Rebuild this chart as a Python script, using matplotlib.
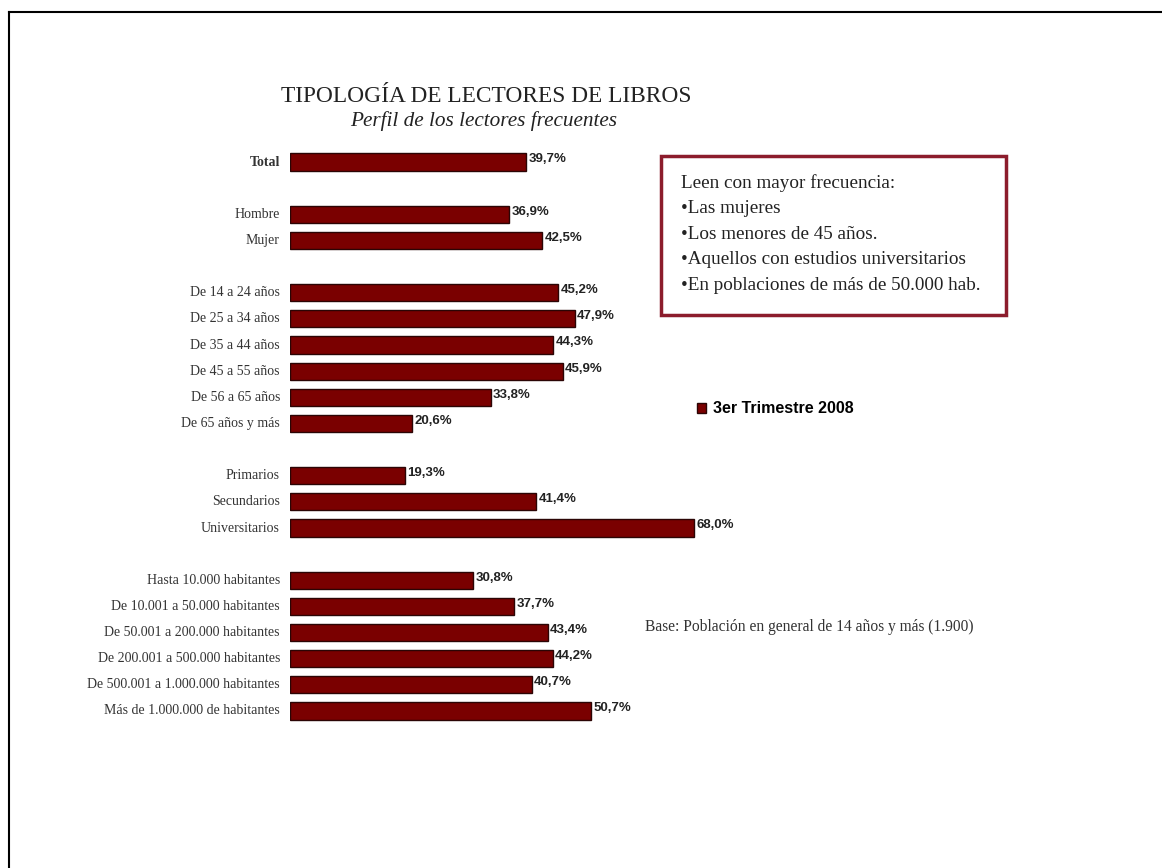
import matplotlib
matplotlib.use("Agg")
import matplotlib.pyplot as plt
from matplotlib.lines import Line2D
from matplotlib.patches import Rectangle, Patch

W, H = 1162, 868

categories = [
    "Total",
    "Hombre", "Mujer",
    "De 14 a 24 años", "De 25 a 34 años", "De 35 a 44 años",
    "De 45 a 55 años", "De 56 a 65 años", "De 65 años y más",
    "Primarios", "Secundarios", "Universitarios",
    "Hasta 10.000 habitantes", "De 10.001 a 50.000 habitantes",
    "De 50.001 a 200.000 habitantes", "De 200.001 a 500.000 habitantes",
    "De 500.001 a 1.000.000 habitantes", "Más de 1.000.000 de habitantes",
]
values = [39.7, 36.9, 42.5, 45.2, 47.9, 44.3, 45.9, 33.8, 20.6,
          19.3, 41.4, 68.0, 30.8, 37.7, 43.4, 44.2, 40.7, 50.7]
# slot positions (gaps between groups)
slots = [0, 2, 3, 5, 6, 7, 8, 9, 10, 12, 13, 14, 16, 17, 18, 19, 20, 21]
series_name = "3er Trimestre 2008"

title = "TIPOLOGÍA DE LECTORES DE LIBROS"
subtitle = "Perfil de los lectores frecuentes"
box_lines = ["Leen con mayor frecuencia:",
             "•Las mujeres",
             "•Los menores de 45 años.",
             "•Aquellos con estudios universitarios",
             "•En poblaciones de más de 50.000 hab."]
base_note = "Base: Población en general de 14 años y más (1.900)"

serif = ["Liberation Serif", "DejaVu Serif"]
sans = ["Liberation Sans", "DejaVu Sans"]

fig = plt.figure(figsize=(W / 100, H / 100), dpi=100)
fig.patch.set_facecolor("white")

def fx(px):
    return px / W

def fy(py):
    return 1 - py / H

# axes: slot 0 centre at y=162px, slot 21 at 711px; x 0 at 290px, 5.94 px/unit
slot_px = (711 - 162) / 21
top_px = 162 - 0.6 * slot_px
bot_px = 711 + 0.6 * slot_px
left_px = 290
xmax = 100
width_px = 5.94 * xmax
ax = fig.add_axes([fx(left_px), fy(bot_px), width_px / W, (bot_px - top_px) / H])
ax.set_xlim(0, xmax)
ax.set_ylim(21.6, -0.6)
ax.axis("off")

bars = ax.barh(slots, values, height=0.66, color="#7a0000",
               edgecolor="#2b0505", linewidth=1.0, label=series_name)

for s, v, c in zip(slots, values, categories):
    ax.text(v + 0.4, s - 0.1, f"{v:.1f}%".replace(".", ","), ha="left", va="center",
            fontsize=9.5, fontweight="bold", family=sans, color="#222222")
    ax.text(-1.7, s, c, ha="right", va="center", fontsize=10, family=serif,
            color="#333333", fontweight="bold" if c == "Total" else "normal")

# titles
fig.text(fx(486), fy(96), title, ha="center", va="center", fontsize=16.8,
         family=serif, color="#222222")
fig.text(fx(484), fy(121), subtitle, ha="center", va="center", fontsize=15.3,
         family=serif, style="italic", color="#222222")

# info box
fig.patches.append(Rectangle((fx(661), fy(315)), fx(1006) - fx(661), fy(156) - fy(315),
                             transform=fig.transFigure, fill=False,
                             edgecolor="#8c1c2c", linewidth=2.5))
for i, line in enumerate(box_lines):
    fig.text(fx(681), fy(183 + i * 25.6), line, ha="left", va="center",
             fontsize=13.8, family=serif, color="#222222")

# legend
leg = fig.legend(handles=[Patch(facecolor="#7a0000", edgecolor="#2b0505")],
                 labels=[series_name], loc="center left",
                 bbox_to_anchor=(fx(683), fy(409)), frameon=False,
                 handlelength=0.55, handleheight=0.55, handletextpad=0.4,
                 prop={"family": sans, "weight": "bold", "size": 11.5})

# base note
fig.text(fx(645), fy(627), base_note, ha="left", va="center", fontsize=11.2,
         family=serif, color="#333333")

# frame lines
fig.lines.append(Line2D([fx(8.5), fx(8.5)], [0, fy(12)], transform=fig.transFigure,
                        color="black", linewidth=1.5))
fig.lines.append(Line2D([fx(8.5), 1], [fy(12), fy(12)], transform=fig.transFigure,
                        color="black", linewidth=1.5))

fig.savefig("out.png", dpi=100, facecolor="white")
